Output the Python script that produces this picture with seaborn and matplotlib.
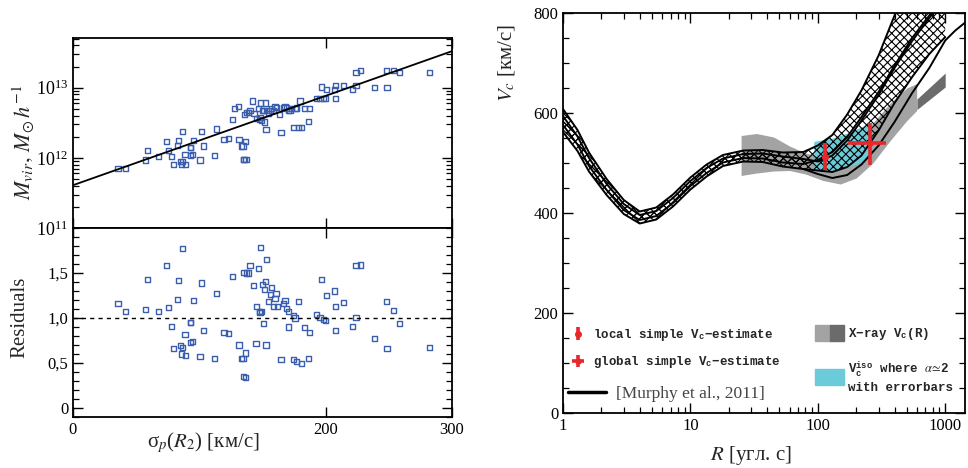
import numpy as np
import matplotlib
matplotlib.use('Agg')
import matplotlib.pyplot as plt
import matplotlib.ticker as mticker
from matplotlib.lines import Line2D
from matplotlib.patches import Patch
from matplotlib.legend_handler import HandlerTuple
import seaborn as sns

# --- left panels: virial mass vs projected velocity dispersion ---
sigma = [35.7, 41.3, 57.6, 59.2, 67.4, 73.8, 75.4, 78.0, 79.8, 82.5,
         83.8, 84.9, 85.9, 86.5, 86.5, 88.6, 88.8, 92.8, 92.8, 93.3,
         94.9, 95.2, 100.5, 102.0, 103.6, 112.1, 113.9, 119.5, 123.2, 126.1,
         127.9, 130.9, 131.4, 133.2, 134.6, 134.8, 135.3, 136.4, 135.6, 136.9,
         137.5, 138.8, 140.1, 142.0, 143.3, 145.4, 146.7, 147.5, 148.0, 148.6,
         149.4, 150.1, 150.7, 151.5, 152.5, 152.8, 153.3, 154.6, 156.0, 157.3,
         158.6, 159.9, 161.2, 163.4, 164.7, 166.5, 167.8, 169.2, 170.8, 171.8,
         173.1, 174.5, 175.8, 177.1, 178.4, 179.7, 181.1, 183.2, 186.4, 187.1,
         193.0, 195.6, 196.9, 198.2, 199.6, 200.4, 207.0, 207.5, 207.5, 214.1,
         221.5, 224.1, 224.1, 227.8, 238.4, 247.9, 248.5, 253.7, 258.5, 282.0]
log_mvir = [11.85, 11.85, 11.97, 12.10, 12.02, 12.23, 12.10, 12.02, 11.90, 12.18,
            12.25, 11.95, 11.90, 12.37, 11.95, 12.05, 11.90, 12.15, 12.03, 12.15,
            12.05, 12.25, 11.97, 12.37, 12.17, 12.03, 12.41, 12.26, 12.28, 12.55,
            12.70, 12.73, 12.26, 12.17, 12.17, 11.98, 11.98, 12.23, 12.62, 11.98,
            12.65, 12.65, 12.68, 12.81, 12.63, 12.56, 12.70, 12.55, 12.57, 12.78,
            12.53, 12.68, 12.67, 12.51, 12.78, 12.40, 12.67, 12.63, 12.68, 12.70,
            12.67, 12.73, 12.72, 12.62, 12.36, 12.72, 12.73, 12.71, 12.68, 12.68,
            12.70, 12.43, 12.70, 12.71, 12.43, 12.81, 12.43, 12.70, 12.52, 12.70,
            12.84, 12.84, 13.01, 12.84, 12.84, 12.97, 12.97, 13.03, 12.84, 13.03,
            12.97, 13.03, 13.22, 13.25, 13.00, 13.25, 13.00, 13.25, 13.22, 13.22]

fit_sigma = [0, 300]
fit_log_mvir = [11.61, 13.52]

sigma_res = [35.7, 41.3, 57.6, 59.2, 67.4, 73.8, 75.4, 78.0, 79.8, 82.5,
             83.8, 84.9, 85.9, 86.5, 86.5, 88.6, 88.8, 92.8, 92.8, 93.3,
             94.9, 95.2, 100.5, 102.0, 103.6, 112.1, 113.9, 119.5, 123.2, 126.1,
             131.4, 133.2, 134.6, 134.8, 135.3, 136.4, 136.4, 137.5, 138.8, 140.1,
             142.7, 144.8, 145.4, 146.7, 147.5, 148.0, 148.6, 149.4, 150.1, 150.7,
             151.5, 152.5, 152.8, 153.3, 154.6, 156.5, 157.3, 158.6, 159.9, 160.7,
             162.0, 164.7, 166.5, 167.8, 169.2, 170.5, 170.8, 174.5, 174.5, 175.8,
             177.1, 178.4, 181.1, 183.2, 186.4, 187.1, 193.0, 195.6, 196.9, 198.2,
             199.6, 200.4, 207.0, 207.5, 207.5, 214.1, 221.5, 224.1, 224.1, 227.8,
             238.4, 247.9, 248.5, 253.7, 258.5, 282.0]
residuals = [1.16, 1.07, 1.09, 1.43, 1.07, 1.58, 1.12, 0.91, 0.66, 1.21,
             1.42, 0.69, 0.60, 1.77, 0.67, 0.82, 0.58, 0.95, 0.73, 0.95,
             0.74, 1.19, 0.57, 1.39, 0.86, 0.55, 1.27, 0.84, 0.83, 1.46,
             0.70, 0.55, 0.55, 0.35, 1.51, 0.34, 0.61, 1.50, 1.50, 1.58,
             1.36, 0.72, 1.13, 1.55, 1.07, 1.06, 1.78, 1.07, 1.37, 0.94,
             1.32, 1.41, 0.70, 1.65, 1.18, 1.26, 1.34, 1.13, 1.22, 1.27,
             1.13, 0.54, 1.16, 1.19, 1.11, 0.90, 1.07, 1.03, 0.54, 1.00,
             0.52, 1.18, 0.49, 0.89, 0.55, 0.84, 1.04, 1.01, 1.43, 0.98,
             0.97, 1.25, 1.30, 0.86, 1.13, 1.17, 0.91, 1.58, 1.01, 1.59,
             0.77, 1.18, 0.66, 1.08, 0.94, 0.67]

# --- right panel: circular velocity profile ---
r_model = [1, 1.3, 1.6, 2.2, 3, 4, 5.4, 7.3, 10, 13.4, 18, 26, 37, 53, 77,
           100, 130, 170, 220, 300, 400, 550, 750, 1000]
band_up_top = [608, 566, 521, 468, 426, 403, 411, 437, 471, 497, 516, 525, 526, 521, 522,
               535, 556, 597, 645, 715, 795, 880, 960, 1050]
band_up_bot = [576, 537, 494, 446, 406, 386, 394, 420, 454, 480, 501, 510, 509, 501, 498,
               506, 522, 552, 592, 642, 695, 750, 795, 840]
band_lo_top = [594, 553, 510, 458, 418, 396, 404, 430, 464, 490, 509, 518, 519, 513, 508,
               503, 515, 545, 585, 636, 690, 744, 790, 830]
band_lo_bot = [562, 524, 483, 436, 398, 379, 387, 413, 447, 473, 494, 503, 502, 493, 488,
               485, 482, 492, 515, 565, 620, 672, 718, 752]
r_outer = [77, 100, 130, 170, 220, 300, 400, 550, 750, 1000, 1200, 1450]
v_outer = [488, 478, 470, 476, 497, 535, 582, 640, 690, 745, 765, 782]

r_xray = [25, 33, 45, 60, 80, 110, 150, 200, 270, 370, 500, 597]
xray_low = [475, 480, 484, 485, 478, 465, 458, 470, 500, 545, 585, 605]
xray_up = [555, 559, 552, 534, 520, 512, 520, 545, 580, 620, 650, 659]
r_xray_dark = [600, 1000]
xray_dark_low = [607, 652]
xray_dark_up = [628, 680]

r_iso = [93, 130, 170, 210, 257]
iso_low = [487, 485, 492, 500, 512]
iso_up = [543, 550, 560, 570, 580]

local_r, local_v, local_verr = [114], [513], [27]
global_r, global_v = [257], [540]
global_rerr = [[84], [86]]
global_verr = [[43], [41]]

blue = '#3a5dae'
red = '#e8272c'
gray = '#a3a3a3'
dark_gray = '#6b6b6b'
cyan = '#6bcbd8'

sns.set_theme(style='ticks')
plt.rcParams['font.family'] = ['Liberation Serif', 'DejaVu Serif']
plt.rcParams['mathtext.fontset'] = 'stix'
plt.rcParams['hatch.linewidth'] = 0.8
plt.rcParams['axes.linewidth'] = 1.3

fig = plt.figure(figsize=(9.68, 4.68), dpi=100)
ax_m = fig.add_axes([0.0754, 0.5128, 0.3915, 0.406])
ax_r = fig.add_axes([0.0754, 0.109, 0.3915, 0.4038])
ax_v = fig.add_axes([0.5816, 0.1175, 0.4153, 0.8547])

for ax in (ax_m, ax_r, ax_v):
    ax.tick_params(which='both', direction='in', top=True, right=True,
                   colors='black', labelsize=12)
    ax.tick_params(which='major', length=7, width=1.0)
    ax.tick_params(which='minor', length=4, width=0.9)
    for sp in ax.spines.values():
        sp.set_color('black')

# top-left: mass vs sigma
ax_m.set_yscale('log')
sns.lineplot(x=fit_sigma, y=10.0 ** np.array(fit_log_mvir), color='black',
             linewidth=1.3, ax=ax_m)
sns.scatterplot(x=sigma, y=10.0 ** np.array(log_mvir), marker='s', s=14,
                facecolors='none', edgecolors=blue, linewidths=1.0, ax=ax_m)
ax_m.set_xlim(0, 300)
ax_m.set_ylim(1e11, 5.1e13)
ax_m.set_xticks([0, 200, 300])
ax_m.tick_params(axis='x', labelbottom=False)
ax_m.yaxis.set_major_locator(mticker.LogLocator(base=10))
ax_m.yaxis.set_minor_locator(mticker.LogLocator(base=10, subs=np.arange(2, 10)))
ax_m.yaxis.set_minor_formatter(mticker.NullFormatter())
ax_m.tick_params(axis='y', labelsize=13)
ax_m.set_xlabel('')
ax_m.set_ylabel(r'$M_{vir},\, M_{\odot}\,h^{-1}$', fontsize=16)
ax_m.yaxis.set_label_coords(-0.096, 0.45)

# bottom-left: residuals
sns.scatterplot(x=sigma_res, y=residuals, marker='s', s=14,
                facecolors='none', edgecolors=blue, linewidths=1.0, ax=ax_r)
ax_r.axhline(1.0, color='black', linestyle=(0, (3, 3)), linewidth=1.0)
ax_r.set_xlim(0, 300)
ax_r.set_ylim(-0.1, 2.0)
ax_r.set_xticks([0, 200, 300])
ax_r.yaxis.set_major_locator(mticker.FixedLocator([0, 0.5, 1.0, 1.5]))
ax_r.yaxis.set_minor_locator(mticker.MultipleLocator(0.1))
ax_r.yaxis.set_major_formatter(mticker.FuncFormatter(
    lambda v, p: '0' if abs(v) < 1e-9 else f'{v:.1f}'.replace('.', ',')))
ax_r.tick_params(axis='y', labelsize=12)
ax_r.set_xlabel('σ$_p$($R_2$) [км/с]', fontsize=15)
ax_r.set_ylabel('Residuals', fontsize=15)
ax_r.xaxis.set_label_coords(0.343, -0.069)
ax_r.yaxis.set_label_coords(-0.114, 0.526)

# right: V_c(R)
ax_v.set_xscale('log')
ax_v.fill_between(r_xray, xray_low, xray_up, color=gray, linewidth=0, zorder=1)
ax_v.fill_between(r_xray_dark, xray_dark_low, xray_dark_up, color=dark_gray,
                  linewidth=0, zorder=1)
ax_v.fill_between(r_iso, iso_low, iso_up, color=cyan, linewidth=0, zorder=2)
ax_v.fill_between(r_model, band_up_bot, band_up_top, facecolor='none',
                  edgecolor='black', hatch='xxxx', linewidth=0, zorder=3)
ax_v.fill_between(r_model, band_lo_bot, band_lo_top, facecolor='none',
                  edgecolor='black', hatch='xxxx', linewidth=0, zorder=3)
for curve in (band_up_top, band_up_bot, band_lo_top, band_lo_bot):
    sns.lineplot(x=r_model, y=curve, color='black', linewidth=1.4, ax=ax_v, zorder=4)
sns.lineplot(x=r_outer, y=v_outer, color='black', linewidth=1.4, ax=ax_v, zorder=4)

eb_local = ax_v.errorbar(local_r, local_v, yerr=local_verr, fmt='o', ms=4,
                         color=red, elinewidth=2.6, capsize=0, zorder=6)
eb_global = ax_v.errorbar(global_r, global_v, xerr=global_rerr, yerr=global_verr,
                          fmt='s', ms=3, color=red, elinewidth=2.6, capsize=0, zorder=6)

ax_v.set_xlim(1, 1430)
ax_v.set_ylim(0, 800)
ax_v.xaxis.set_major_locator(mticker.LogLocator(base=10))
ax_v.xaxis.set_minor_locator(mticker.LogLocator(base=10, subs=np.arange(2, 10)))
ax_v.xaxis.set_major_formatter(mticker.FuncFormatter(lambda v, p: f'{v:g}'))
ax_v.xaxis.set_minor_formatter(mticker.NullFormatter())
ax_v.yaxis.set_major_locator(mticker.MultipleLocator(200))
ax_v.yaxis.set_minor_locator(mticker.MultipleLocator(50))
ax_v.set_xlabel('$R$ [угл. с]', fontsize=15)
ax_v.set_ylabel('$V_c$ [км/с]', fontsize=15)
ax_v.xaxis.set_label_coords(0.467, -0.078)
ax_v.yaxis.set_label_coords(-0.115, 0.875)

mono = {'family': ['Liberation Mono', 'DejaVu Sans Mono'], 'weight': 'bold', 'size': 9}
leg1 = ax_v.legend([eb_local, eb_global],
                   [r'local simple V$_\mathregular{c}$−estimate',
                    r'global simple V$_\mathregular{c}$−estimate'],
                   loc='upper left', bbox_to_anchor=(0.012, 0.215), frameon=False,
                   prop=mono, handlelength=1.6, handletextpad=0.4,
                   labelspacing=0.9, borderpad=0, borderaxespad=0)
ax_v.add_artist(leg1)
leg2 = ax_v.legend([Line2D([], [], color='black', linewidth=2.5)],
                   ['[Murphy et al., 2011]'],
                   loc='center left', bbox_to_anchor=(0.012, 0.0475), frameon=False,
                   prop={'family': ['Liberation Serif', 'DejaVu Serif'], 'size': 12.5},
                   handlelength=2.2, handletextpad=0.6, borderpad=0, borderaxespad=0)
for t in leg2.get_texts():
    t.set_color('#444444')
ax_v.add_artist(leg2)
leg3 = ax_v.legend([(Patch(color=gray), Patch(color=dark_gray)), Patch(color=cyan)],
                   [r'X−ray V$_\mathregular{c}$(R)',
                    'V$_\\mathregular{c}^\\mathregular{iso}$ where $\\alpha\\!\\simeq\\!$2\nwith errorbars'],
                   handler_map={tuple: HandlerTuple(ndivide=None, pad=0)},
                   loc='upper left', bbox_to_anchor=(0.628, 0.22), frameon=False,
                   prop=mono, handlelength=2.3, handleheight=1.6, handletextpad=0.3,
                   labelspacing=1.4, borderpad=0, borderaxespad=0)

fig.savefig('out.png', dpi=100)
